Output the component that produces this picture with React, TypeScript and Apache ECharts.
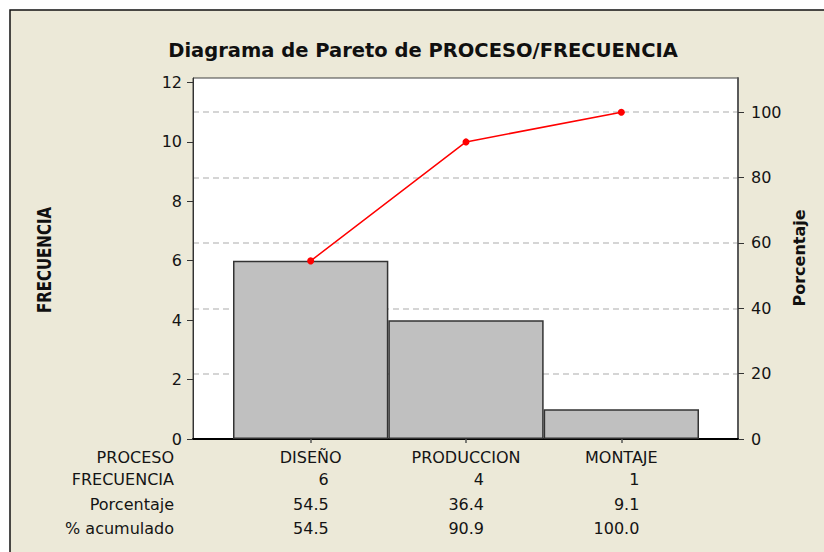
import React, { useEffect, useRef } from "react";
import * as echarts from "echarts";

const categories = ["DISEÑO", "PRODUCCION", "MONTAJE"];
const frequency = [6, 4, 1];
const percentage = [54.5, 36.4, 9.1];
const cumulative = [54.5, 90.9, 100.0];
const leftTicks = [0, 2, 4, 6, 8, 10, 12];
const rightTicks = [0, 20, 40, 60, 80, 100];
const rowLabels = ["PROCESO", "FRECUENCIA", "Porcentaje", "% acumulado"];
const total = 11;
const leftMax = 12.15;

const FONT = "'DejaVu Sans', sans-serif";
const TXT = "#141414";
const FS = 16;

export default function App() {
  const ref = useRef<HTMLDivElement>(null);
  useEffect(() => {
    if (!ref.current) return;
    const chart = echarts.init(ref.current, null, { renderer: "svg" });
    const rightMax = (leftMax * 100) / total;
    const gridB = { left: 233, top: 78, width: 466, height: 361 };
    const rowY = [457, 479, 504, 528];
    const tableAxis = (offset: number, values: string[]) => ({
      type: "category",
      gridIndex: 1,
      data: categories,
      position: "bottom",
      offset,
      axisLine: { show: false },
      axisTick: { show: false },
      splitLine: { show: false },
      axisLabel: {
        interval: 0,
        margin: 10,
        fontFamily: FONT,
        fontSize: FS,
        color: TXT,
        formatter: (_v: string, i: number) => "{r|" + values[i] + "}",
        rich: { r: { width: 36, align: "right", fontFamily: FONT, fontSize: FS, color: TXT } },
      },
    });
    chart.setOption({
      animation: false,
      backgroundColor: "#ffffff",
      textStyle: { fontFamily: FONT },
      graphic: [
        {
          type: "rect",
          z: -10,
          silent: true,
          shape: { x: 10, y: 10, width: 830, height: 560 },
          style: { fill: "#ECE9D8", stroke: "#111", lineWidth: 1.5 },
        },
        {
          type: "text",
          x: 423,
          y: 50,
          style: {
            text: "Diagrama de Pareto de PROCESO/FRECUENCIA",
            fontFamily: FONT,
            fontSize: 19.5,
            fontWeight: "bold",
            fill: "#101010",
            align: "center",
            verticalAlign: "middle",
          },
        },
        {
          type: "text",
          x: 44,
          y: 260,
          rotation: Math.PI / 2,
          scaleX: 0.75,
          style: {
            text: "FRECUENCIA",
            fontFamily: FONT,
            fontSize: 20,
            fontWeight: "bold",
            fill: "#101010",
            align: "center",
            verticalAlign: "middle",
          },
        },
        {
          type: "text",
          x: 799,
          y: 258,
          rotation: Math.PI / 2,
          style: {
            text: "Porcentaje",
            fontFamily: FONT,
            fontSize: 16,
            fontWeight: "bold",
            fill: "#101010",
            align: "center",
            verticalAlign: "middle",
          },
        },
        ...rowLabels.map((t, i) => ({
          type: "text",
          x: 174,
          y: rowY[i],
          style: {
            text: t,
            fontFamily: FONT,
            fontSize: FS,
            fill: TXT,
            align: "right",
            verticalAlign: "middle",
          },
        })),
      ],
      grid: [
        {
          left: 193,
          top: 78,
          width: 545,
          height: 361,
          show: true,
          backgroundColor: "#ffffff",
          borderColor: "#404040",
          borderWidth: 1,
          containLabel: false,
        },
        { ...gridB, show: false, containLabel: false },
      ],
      xAxis: [
        {
          type: "value",
          gridIndex: 0,
          min: 0,
          max: 1,
          axisLine: { show: true, lineStyle: { color: "#000", width: 2 } },
          axisTick: { show: false },
          axisLabel: { show: false },
          splitLine: { show: false },
        },
        {
          type: "category",
          gridIndex: 1,
          data: categories,
          position: "bottom",
          axisLine: { show: false },
          axisTick: { show: true, alignWithLabel: true, length: 4, lineStyle: { color: "#555", width: 1.5 } },
          axisLabel: { interval: 0, margin: 10, fontFamily: FONT, fontSize: FS, color: TXT },
          splitLine: { show: false },
        },
        tableAxis(22, frequency.map((v) => String(v))),
        tableAxis(47, percentage.map((v) => v.toFixed(1))),
        tableAxis(71, cumulative.map((v) => v.toFixed(1))),
      ],
      yAxis: [
        {
          type: "value",
          gridIndex: 0,
          position: "left",
          min: 0,
          max: leftMax,
          axisLine: { show: true, lineStyle: { color: "#333", width: 1 } },
          axisTick: { show: true, length: 6, customValues: leftTicks, lineStyle: { color: "#333" } },
          axisLabel: { customValues: leftTicks, margin: 11, fontFamily: FONT, fontSize: FS, color: TXT },
          splitLine: { show: false },
        },
        {
          type: "value",
          gridIndex: 0,
          position: "right",
          min: 0,
          max: rightMax,
          axisLine: { show: true, lineStyle: { color: "#5a5a5a", width: 2 } },
          axisTick: { show: true, length: 6, customValues: rightTicks, lineStyle: { color: "#333" } },
          axisLabel: { customValues: rightTicks, margin: 13, fontFamily: FONT, fontSize: FS, color: TXT },
          splitLine: {
            show: true,
            lineStyle: { color: "#c8c8c8", width: 1.5, type: [6, 4] },
          },
        },
        { type: "value", gridIndex: 1, min: 0, max: leftMax, show: false, splitLine: { show: false } },
        { type: "value", gridIndex: 1, min: 0, max: rightMax, show: false, splitLine: { show: false } },
      ],
      series: [
        {
          type: "bar",
          xAxisIndex: 1,
          yAxisIndex: 2,
          data: frequency,
          barCategoryGap: "0%",
          barWidth: "100%",
          itemStyle: { color: "#c0c0c0", borderColor: "#333", borderWidth: 1.5 },
          z: 2,
        },
        {
          type: "line",
          xAxisIndex: 1,
          yAxisIndex: 3,
          data: cumulative,
          symbol: "circle",
          symbolSize: 7,
          lineStyle: { color: "#ff0000", width: 1.5 },
          itemStyle: { color: "#ff0000" },
          z: 3,
        },
      ],
    });
    return () => chart.dispose();
  }, []);
  return (
    <div
      ref={ref}
      style={{ position: "fixed", left: 0, top: 0, width: 824, height: 552 }}
    />
  );
}
